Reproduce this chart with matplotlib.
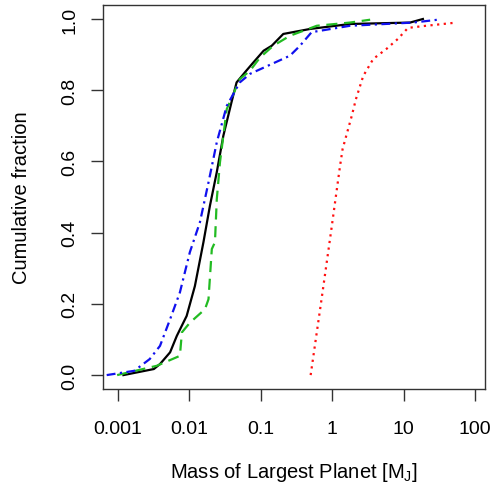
import numpy as np
import matplotlib
matplotlib.use("Agg")
import matplotlib.pyplot as plt

plt.rcParams['font.family'] = ['Liberation Sans', 'DejaVu Sans']

# cumulative curves, masses in Jupiter masses
black_m = [0.0012, 0.0032, 0.0039, 0.0054, 0.0067, 0.0092, 0.012, 0.0158, 0.0195,
           0.0243, 0.030, 0.039, 0.046, 0.063, 0.079, 0.11, 0.143, 0.207, 0.49, 1.78, 12.3, 18.6]
black_f = [0.0, 0.017, 0.031, 0.064, 0.11, 0.166, 0.25, 0.373, 0.476,
           0.57, 0.672, 0.766, 0.822, 0.855, 0.878, 0.911, 0.925, 0.958, 0.972, 0.986, 0.99, 1.0]

green_m = [0.00098, 0.0035, 0.0074, 0.0079, 0.0102, 0.0166, 0.0186, 0.0207, 0.0229,
           0.0243, 0.0257, 0.0269, 0.030, 0.0335, 0.051, 0.071, 0.098, 0.15, 0.257, 0.61, 1.78, 3.4]
green_f = [0.0, 0.026, 0.054, 0.12, 0.147, 0.185, 0.213, 0.354, 0.373,
           0.494, 0.55, 0.597, 0.672, 0.747, 0.831, 0.855, 0.892, 0.925, 0.953, 0.981, 0.99, 0.998]

blue_m = [0.0007, 0.0017, 0.0028, 0.0039, 0.0054, 0.0074, 0.0102, 0.0141, 0.0186,
          0.0243, 0.0335, 0.051, 0.071, 0.257, 0.355, 0.516, 1.78, 13.6, 30.2]
blue_f = [0.0, 0.012, 0.045, 0.082, 0.157, 0.232, 0.345, 0.429, 0.541,
          0.654, 0.756, 0.822, 0.846, 0.897, 0.925, 0.963, 0.981, 0.99, 0.998]

red_m = [0.5, 0.71, 0.96, 1.29, 1.40, 1.88, 2.15, 2.72, 3.76, 5.75, 8.3, 11.5, 18.6, 55.0]
red_f = [0.0, 0.213, 0.40, 0.588, 0.635, 0.728, 0.775, 0.84, 0.888, 0.916, 0.944, 0.975, 0.98, 0.99]

xticks = [0.001, 0.01, 0.1, 1, 10, 100]
xtick_labels = ['0.001', '0.01', '0.1', '1', '10', '100']
yticks = [0.0, 0.2, 0.4, 0.6, 0.8, 1.0]

fig = plt.figure(figsize=(4.93, 4.89), dpi=100)
ax = fig.add_axes([0.209, 0.2025, 0.775, 0.785])

lw = 1.6
ax.plot(black_m, black_f, color='black', lw=lw, ls='-')
ax.plot(green_m, green_f, color='#22bb22', lw=lw, ls=(0, (5, 3)))
ax.plot(blue_m, blue_f, color='#1010ee', lw=lw, ls=(0, (4, 2, 1, 2)))
ax.plot(red_m, red_f, color='#ff1010', lw=lw, ls=(0, (1, 2)))

ax.set_xscale('log')
ax.set_xlim(10**-3.206, 10**2.14)
ax.set_ylim(-0.039, 1.039)
ax.set_xticks(xticks)
ax.set_xticklabels(xtick_labels)
ax.minorticks_off()
ax.set_yticks(yticks)
ax.set_yticklabels([f'{v:.1f}' for v in yticks], rotation=90, va='center')

ax.tick_params(direction='out', length=8.5, width=1, labelsize=14, color='#333333')
ax.tick_params(axis='x', pad=13.5)
ax.tick_params(axis='y', pad=9)
for s in ax.spines.values():
    s.set_color('#333333')
    s.set_linewidth(1)

ax.set_xlabel('Mass of Largest Planet [M$_\\mathregular{J}$]', fontsize=14.5, labelpad=17)
ax.set_ylabel('Cumulative fraction', fontsize=14.5, labelpad=22)

fig.savefig('out.png', dpi=100)
